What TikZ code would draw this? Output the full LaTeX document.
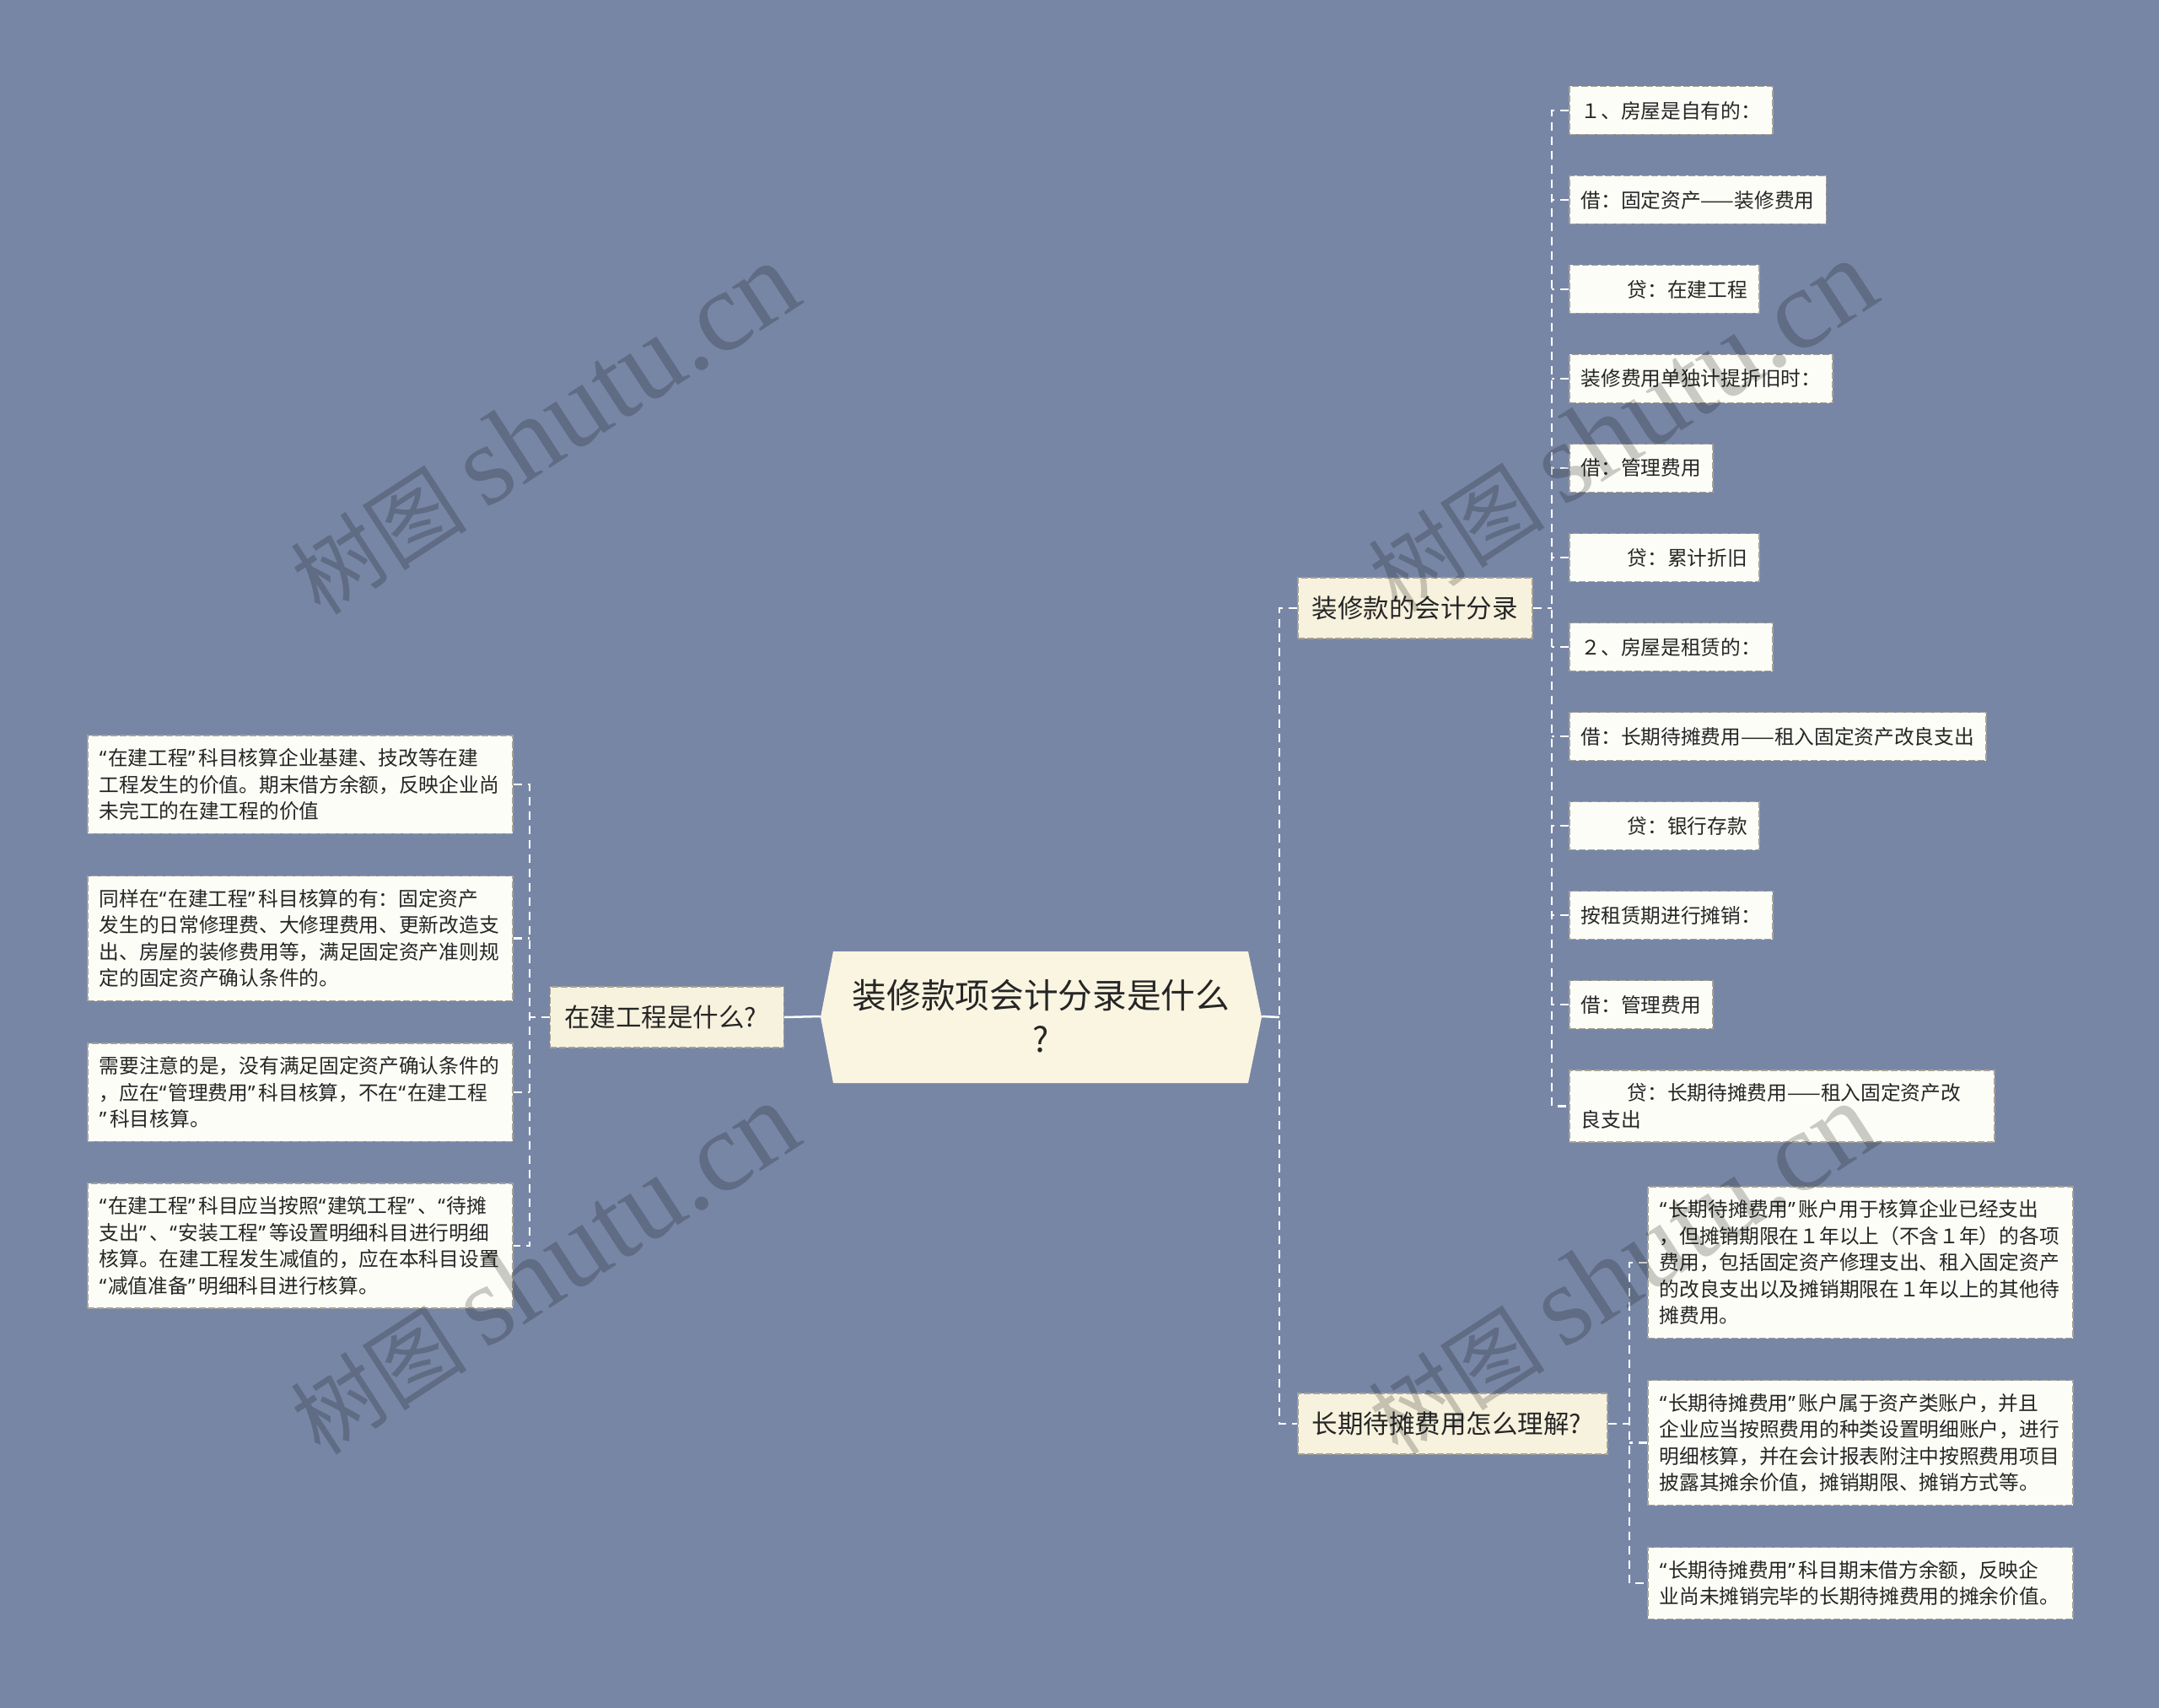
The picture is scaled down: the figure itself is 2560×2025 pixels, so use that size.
\documentclass[tikz,border=0pt]{standalone}
\usepackage{fontspec}
\setmainfont{Noto Sans CJK SC}
\newfontfamily\wmserif{Liberation Serif}
\newfontfamily\qfont{Noto Sans}
\newcommand\Lq{{\qfont “}\kern2pt}
\newcommand\Rq{{\qfont ”}\kern4pt}
\usetikzlibrary{calc}
\definecolor{bgc}{RGB}{120,134,166}
\definecolor{cenc}{RGB}{250,245,225}
\definecolor{brc}{RGB}{247,242,222}
\definecolor{leafc}{RGB}{253,253,247}
\definecolor{bordc}{RGB}{165,163,150}
\definecolor{txtc}{RGB}{38,38,38}
\tikzset{
  leaf/.style={draw=bordc, dash pattern=on 8pt off 3pt, line width=1.5pt, fill=leafc,
    font=\fontsize{23.7}{31.5}\selectfont, text=txtc, inner xsep=14pt, inner ysep=0pt,
    anchor=west, minimum height=57pt, align=left},
  mleaf/.style={leaf, text width=476pt, minimum height={#1*31.5pt+22pt}},
  branch/.style={draw=bordc, dash pattern=on 8pt off 3pt, line width=1.5pt, fill=brc,
    font=\fontsize{30.5}{36}\selectfont, text=txtc, inner xsep=17pt, inner ysep=0pt,
    minimum height=72pt},
  conn/.style={draw=white, line width=2.5pt},
  dconn/.style={draw=white, line width=2.5pt, dash pattern=on 10pt off 7pt},
  wm/.style={text=black, opacity=0.2, font=\fontsize{105}{110}\selectfont, inner sep=0pt}
}
\begin{document}
\begin{tikzpicture}[x=1pt,y=-1pt]
\fill[bgc] (0,0) rectangle (2560,2025);
\useasboundingbox (0,0) rectangle (2560,2025);

% central topic
\path[fill=cenc] (988,1128) -- (1480,1128) -- (1496,1206) -- (1480,1284) -- (988,1284) -- (973,1206) -- cycle;
\node[minimum width=523pt, minimum height=156pt, inner sep=0pt, align=center, text=txtc,
  font=\fontsize{40.7}{52}\selectfont] (c) at (1234.5,1205) {装修款项会计分录是什么\\?};

% branches
\node[branch, anchor=east] (b0) at (930,1206) {在建工程是什么?\hspace*{15pt}};
\node[branch, anchor=west] (b1) at (1538,721) {装修款的会计分录};
\node[branch, anchor=west] (b2) at (1538,1688) {长期待摊费用怎么理解?\hspace*{14pt}};

% left leaves
\node[mleaf=3] (l1) at (103,930) {\Lq 在建工程\Rq 科目核算企业基建、技改等在建\\工程发生的价值。期末借方余额，反映企业尚\\未完工的在建工程的价值};
\node[mleaf=4] (l2) at (103,1112.5) {同样在\Lq 在建工程\Rq 科目核算的有：固定资产\\发生的日常修理费、大修理费用、更新改造支\\出、房屋的装修费用等，满足固定资产准则规\\定的固定资产确认条件的。};
\node[mleaf=3] (l3) at (103,1295) {需要注意的是，没有满足固定资产确认条件的\\，应在\Lq 管理费用\Rq 科目核算，不在\Lq 在建工程\\\Rq 科目核算。};
\node[mleaf=4] (l4) at (103,1477) {\Lq 在建工程\Rq 科目应当按照\Lq 建筑工程\Rq 、\Lq 待摊\\支出\Rq 、\Lq 安装工程\Rq 等设置明细科目进行明细\\核算。在建工程发生减值的，应在本科目设置\\\Lq 减值准备\Rq 明细科目进行核算。};

% right leaves of b1
\node[leaf] (a1) at (1860,131) {１、房屋是自有的：};
\node[leaf] (a2) at (1860,237) {借：固定资产——装修费用};
\node[leaf] (a3) at (1860,343) {\hspace*{55pt}贷：在建工程};
\node[leaf] (a4) at (1860,449) {装修费用单独计提折旧时：};
\node[leaf] (a5) at (1860,555) {借：管理费用};
\node[leaf] (a6) at (1860,661) {\hspace*{55pt}贷：累计折旧};
\node[leaf] (a7) at (1860,767) {２、房屋是租赁的：};
\node[leaf] (a8) at (1860,873) {借：长期待摊费用——租入固定资产改良支出};
\node[leaf] (a9) at (1860,979) {\hspace*{55pt}贷：银行存款};
\node[leaf] (a10) at (1860,1085) {按租赁期进行摊销：};
\node[leaf] (a11) at (1860,1191) {借：管理费用};
\node[mleaf=2] (a12) at (1860,1311.5) {\hspace*{55pt}贷：长期待摊费用——租入固定资产改\\良支出};

% right leaves of b2
\node[mleaf=5] (r1) at (1953,1496.75) {\Lq 长期待摊费用\Rq 账户用于核算企业已经支出\\，但摊销期限在１年以上（不含１年）的各项\\费用，包括固定资产修理支出、租入固定资产\\的改良支出以及摊销期限在１年以上的其他待\\摊费用。};
\node[mleaf=4] (r2) at (1953,1710.5) {\Lq 长期待摊费用\Rq 账户属于资产类账户，并且\\企业应当按照费用的种类设置明细账户，进行\\明细核算，并在会计报表附注中按照费用项目\\披露其摊余价值，摊销期限、摊销方式等。};
\node[mleaf=2] (r3) at (1953,1877) {\Lq 长期待摊费用\Rq 科目期末借方余额，反映企\\业尚未摊销完毕的长期待摊费用的摊余价值。};

% trunk coordinates
\coordinate (t0) at (628,1206);
\coordinate (t1) at (1517,1206);
\coordinate (t2) at (1840,721);
\coordinate (t3) at (1932,1688);

% connectors
\draw[conn] (c.west) -- (b0.east);
\draw[conn] (c.east) -- (t1);
\draw[dconn] (b1.west) -- (b1.west -| t1) -- (b2.west -| t1) -- (b2.west);

\draw[dconn] (b0.west) -- (t0);
\draw[dconn] (l1.east) -- (l1.east -| t0) -- (l4.east -| t0) -- (l4.east);
\draw[dconn] (l2.east) -- (l2.east -| t0);
\draw[dconn] (l3.east) -- (l3.east -| t0);

\draw[dconn] (b1.east) -- (t2);
\draw[dconn] (a1.west) -- (a1.west -| t2) -- (a12.west -| t2) -- (a12.west);
\foreach \n in {a2,a3,a4,a5,a6,a7,a8,a9,a10,a11}{
  \draw[dconn] (\n.west) -- (\n.west -| t2);
}

\draw[dconn] (b2.east) -- (t3);
\draw[dconn] (r1.west) -- (r1.west -| t3) -- (r3.west -| t3) -- (r3.west);
\draw[dconn] (r2.west) -- (r2.west -| t3);

% watermarks
\node[wm, rotate=33] (w1) at (645,509) {树图 {\wmserif\fontsize{135}{140}\selectfont shutu.cn}};
\node[wm, rotate=33] (w2) at (645,1505) {树图 {\wmserif\fontsize{135}{140}\selectfont shutu.cn}};
\node[wm, rotate=33] (w3) at (1923,506) {树图 {\wmserif\fontsize{135}{140}\selectfont shutu.cn}};
\node[wm, rotate=33] (w4) at (1923,1505) {树图 {\wmserif\fontsize{135}{140}\selectfont shutu.cn}};
\end{tikzpicture}
\end{document}
